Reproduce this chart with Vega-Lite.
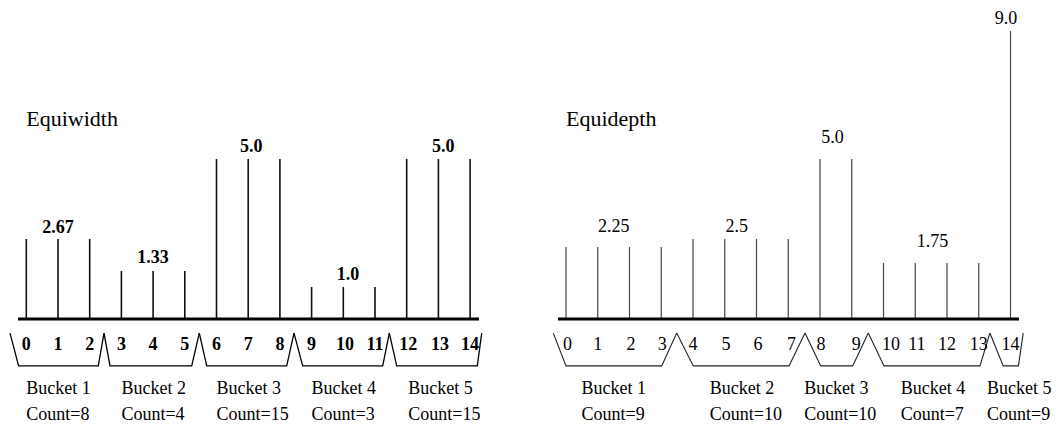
{
  "$schema": "https://vega.github.io/schema/vega-lite/v6.json",
  "padding": 0,
  "spacing": 20,
  "background": "white",
  "config": {
    "view": {"stroke": null},
    "axis": {"disable": true},
    "text": {"font": "'Liberation Serif', 'Times New Roman', Times, 'DejaVu Serif', serif", "fontSize": 18, "color": "#000"}
  },
  "datasets": {
    "bars": [
      {"panel": "L", "x": 0, "h": 2.5}, {"panel": "L", "x": 1, "h": 2.5}, {"panel": "L", "x": 2, "h": 2.5},
      {"panel": "L", "x": 3, "h": 1.5}, {"panel": "L", "x": 4, "h": 1.5}, {"panel": "L", "x": 5, "h": 1.5},
      {"panel": "L", "x": 6, "h": 5.0}, {"panel": "L", "x": 7, "h": 5.0}, {"panel": "L", "x": 8, "h": 5.0},
      {"panel": "L", "x": 9, "h": 1.0}, {"panel": "L", "x": 10, "h": 1.0}, {"panel": "L", "x": 11, "h": 1.0},
      {"panel": "L", "x": 12, "h": 5.0}, {"panel": "L", "x": 13, "h": 5.0}, {"panel": "L", "x": 14, "h": 5.0},
      {"panel": "R", "x": 0, "h": 2.25}, {"panel": "R", "x": 1, "h": 2.25}, {"panel": "R", "x": 2, "h": 2.25}, {"panel": "R", "x": 3, "h": 2.25},
      {"panel": "R", "x": 4, "h": 2.5}, {"panel": "R", "x": 5, "h": 2.5}, {"panel": "R", "x": 6, "h": 2.5}, {"panel": "R", "x": 7, "h": 2.5},
      {"panel": "R", "x": 8, "h": 5.0}, {"panel": "R", "x": 9, "h": 5.0},
      {"panel": "R", "x": 10, "h": 1.75}, {"panel": "R", "x": 11, "h": 1.75}, {"panel": "R", "x": 12, "h": 1.75}, {"panel": "R", "x": 13, "h": 1.75},
      {"panel": "R", "x": 14, "h": 9.0}
    ],
    "brackets": [
      {"panel": "L", "b": 1, "o": 1, "x": -0.514, "y": -0.44}, {"panel": "L", "b": 1, "o": 2, "x": -0.243, "y": -1.465}, {"panel": "L", "b": 1, "o": 3, "x": 2.271, "y": -1.465}, {"panel": "L", "b": 1, "o": 4, "x": 2.451, "y": -0.44},
      {"panel": "L", "b": 2, "o": 1, "x": 2.451, "y": -0.44}, {"panel": "L", "b": 2, "o": 2, "x": 2.64, "y": -1.465}, {"panel": "L", "b": 2, "o": 3, "x": 5.218, "y": -1.465}, {"panel": "L", "b": 2, "o": 4, "x": 5.457, "y": -0.44},
      {"panel": "L", "b": 3, "o": 1, "x": 5.457, "y": -0.44}, {"panel": "L", "b": 3, "o": 2, "x": 5.691, "y": -1.465}, {"panel": "L", "b": 3, "o": 3, "x": 8.215, "y": -1.465}, {"panel": "L", "b": 3, "o": 4, "x": 8.445, "y": -0.44},
      {"panel": "L", "b": 4, "o": 1, "x": 8.445, "y": -0.44}, {"panel": "L", "b": 4, "o": 2, "x": 8.719, "y": -1.465}, {"panel": "L", "b": 4, "o": 3, "x": 11.243, "y": -1.465}, {"panel": "L", "b": 4, "o": 4, "x": 11.451, "y": -0.44},
      {"panel": "L", "b": 5, "o": 1, "x": 11.451, "y": -0.44}, {"panel": "L", "b": 5, "o": 2, "x": 11.685, "y": -1.465}, {"panel": "L", "b": 5, "o": 3, "x": 14.227, "y": -1.465}, {"panel": "L", "b": 5, "o": 4, "x": 14.366, "y": -0.44},
      {"panel": "R", "b": 1, "o": 1, "x": -0.4, "y": -0.44}, {"panel": "R", "b": 1, "o": 2, "x": 0.0, "y": -1.465}, {"panel": "R", "b": 1, "o": 3, "x": 3.014, "y": -1.465}, {"panel": "R", "b": 1, "o": 4, "x": 3.487, "y": -0.44},
      {"panel": "R", "b": 2, "o": 1, "x": 3.487, "y": -0.44}, {"panel": "R", "b": 2, "o": 2, "x": 4.009, "y": -1.465}, {"panel": "R", "b": 2, "o": 3, "x": 7.024, "y": -1.465}, {"panel": "R", "b": 2, "o": 4, "x": 7.528, "y": -0.44},
      {"panel": "R", "b": 3, "o": 1, "x": 7.528, "y": -0.44}, {"panel": "R", "b": 3, "o": 2, "x": 8.022, "y": -1.465}, {"panel": "R", "b": 3, "o": 3, "x": 9.03, "y": -1.465}, {"panel": "R", "b": 3, "o": 4, "x": 9.521, "y": -0.44},
      {"panel": "R", "b": 4, "o": 1, "x": 9.521, "y": -0.44}, {"panel": "R", "b": 4, "o": 2, "x": 10.016, "y": -1.465}, {"panel": "R", "b": 4, "o": 3, "x": 13.039, "y": -1.465}, {"panel": "R", "b": 4, "o": 4, "x": 13.35, "y": -0.44},
      {"panel": "R", "b": 5, "o": 1, "x": 13.35, "y": -0.44}, {"panel": "R", "b": 5, "o": 2, "x": 13.77, "y": -1.465}, {"panel": "R", "b": 5, "o": 3, "x": 14.25, "y": -1.465}, {"panel": "R", "b": 5, "o": 4, "x": 14.4, "y": -0.44}
    ],
    "texts": [
      {"panel": "L", "kind": "title", "x": 0, "y": 6.03, "text": "Equiwidth"},
      {"panel": "L", "kind": "value", "x": 1, "y": 2.7, "text": "2.67"},
      {"panel": "L", "kind": "value", "x": 4, "y": 1.74, "text": "1.33"},
      {"panel": "L", "kind": "value", "x": 7.1, "y": 5.23, "text": "5.0"},
      {"panel": "L", "kind": "value", "x": 10.15, "y": 1.22, "text": "1.0"},
      {"panel": "L", "kind": "value", "x": 13.15, "y": 5.23, "text": "5.0"},
      {"panel": "L", "kind": "digit", "x": 0, "y": -0.97, "text": "0"},
      {"panel": "L", "kind": "digit", "x": 1, "y": -0.97, "text": "1"},
      {"panel": "L", "kind": "digit", "x": 2, "y": -0.97, "text": "2"},
      {"panel": "L", "kind": "digit", "x": 3, "y": -0.97, "text": "3"},
      {"panel": "L", "kind": "digit", "x": 4, "y": -0.97, "text": "4"},
      {"panel": "L", "kind": "digit", "x": 5, "y": -0.97, "text": "5"},
      {"panel": "L", "kind": "digit", "x": 6, "y": -0.97, "text": "6"},
      {"panel": "L", "kind": "digit", "x": 7, "y": -0.97, "text": "7"},
      {"panel": "L", "kind": "digit", "x": 8, "y": -0.97, "text": "8"},
      {"panel": "L", "kind": "digit", "x": 9, "y": -0.97, "text": "9"},
      {"panel": "L", "kind": "digit", "x": 10.05, "y": -0.97, "text": "10"},
      {"panel": "L", "kind": "digit", "x": 11, "y": -0.97, "text": "11"},
      {"panel": "L", "kind": "digit", "x": 12.05, "y": -0.97, "text": "12"},
      {"panel": "L", "kind": "digit", "x": 13.05, "y": -0.97, "text": "13"},
      {"panel": "L", "kind": "digit", "x": 14, "y": -0.97, "text": "14"},
      {"panel": "L", "kind": "bucket", "x": 0, "y": -2.33, "text": "Bucket 1"},
      {"panel": "L", "kind": "bucket", "x": 3, "y": -2.33, "text": "Bucket 2"},
      {"panel": "L", "kind": "bucket", "x": 6, "y": -2.33, "text": "Bucket 3"},
      {"panel": "L", "kind": "bucket", "x": 9, "y": -2.33, "text": "Bucket 4"},
      {"panel": "L", "kind": "bucket", "x": 12.05, "y": -2.33, "text": "Bucket 5"},
      {"panel": "L", "kind": "bucket", "x": 0, "y": -3.17, "text": "Count=8"},
      {"panel": "L", "kind": "bucket", "x": 3, "y": -3.17, "text": "Count=4"},
      {"panel": "L", "kind": "bucket", "x": 6, "y": -3.17, "text": "Count=15"},
      {"panel": "L", "kind": "bucket", "x": 9, "y": -3.17, "text": "Count=3"},
      {"panel": "L", "kind": "bucket", "x": 12.05, "y": -3.17, "text": "Count=15"},
      {"panel": "R", "kind": "title", "x": 0, "y": 6.03, "text": "Equidepth"},
      {"panel": "R", "kind": "value", "x": 1.5, "y": 2.73, "text": "2.25"},
      {"panel": "R", "kind": "value", "x": 5.38, "y": 2.73, "text": "2.5"},
      {"panel": "R", "kind": "value", "x": 8.39, "y": 5.49, "text": "5.0"},
      {"panel": "R", "kind": "value", "x": 11.54, "y": 2.26, "text": "1.75"},
      {"panel": "R", "kind": "value", "x": 13.86, "y": 9.22, "text": "9.0"},
      {"panel": "R", "kind": "digit", "x": 0.05, "y": -0.97, "text": "0"},
      {"panel": "R", "kind": "digit", "x": 1, "y": -0.97, "text": "1"},
      {"panel": "R", "kind": "digit", "x": 2.05, "y": -0.97, "text": "2"},
      {"panel": "R", "kind": "digit", "x": 3.03, "y": -0.97, "text": "3"},
      {"panel": "R", "kind": "digit", "x": 4, "y": -0.97, "text": "4"},
      {"panel": "R", "kind": "digit", "x": 5.04, "y": -0.97, "text": "5"},
      {"panel": "R", "kind": "digit", "x": 6.05, "y": -0.97, "text": "6"},
      {"panel": "R", "kind": "digit", "x": 7.1, "y": -0.97, "text": "7"},
      {"panel": "R", "kind": "digit", "x": 8.03, "y": -0.97, "text": "8"},
      {"panel": "R", "kind": "digit", "x": 9.14, "y": -0.97, "text": "9"},
      {"panel": "R", "kind": "digit", "x": 10.24, "y": -0.97, "text": "10"},
      {"panel": "R", "kind": "digit", "x": 11.05, "y": -0.97, "text": "11"},
      {"panel": "R", "kind": "digit", "x": 12, "y": -0.97, "text": "12"},
      {"panel": "R", "kind": "digit", "x": 13, "y": -0.97, "text": "13"},
      {"panel": "R", "kind": "digit", "x": 14, "y": -0.97, "text": "14"},
      {"panel": "R", "kind": "bucket", "x": 0.49, "y": -2.33, "text": "Bucket 1"},
      {"panel": "R", "kind": "bucket", "x": 4.53, "y": -2.33, "text": "Bucket 2"},
      {"panel": "R", "kind": "bucket", "x": 7.5, "y": -2.33, "text": "Bucket 3"},
      {"panel": "R", "kind": "bucket", "x": 10.54, "y": -2.33, "text": "Bucket 4"},
      {"panel": "R", "kind": "bucket", "x": 13.26, "y": -2.33, "text": "Bucket 5"},
      {"panel": "R", "kind": "bucket", "x": 0.49, "y": -3.17, "text": "Count=9"},
      {"panel": "R", "kind": "bucket", "x": 4.53, "y": -3.17, "text": "Count=10"},
      {"panel": "R", "kind": "bucket", "x": 7.5, "y": -3.17, "text": "Count=10"},
      {"panel": "R", "kind": "bucket", "x": 10.54, "y": -3.17, "text": "Count=7"},
      {"panel": "R", "kind": "bucket", "x": 13.26, "y": -3.17, "text": "Count=9"}
    ]
  },
  "hconcat": [
    {
      "width": 485,
      "height": 433,
      "layer": [
        {
          "data": {"name": "bars"},
          "transform": [{"filter": "datum.panel === 'L'"}],
          "mark": {"type": "rule", "color": "#111", "strokeWidth": 1.6},
          "encoding": {
            "x": {"field": "x", "type": "quantitative", "scale": {"domain": [-0.8297, 14.47], "nice": false, "zero": false}},
            "y": {"field": "h", "type": "quantitative", "scale": {"domain": [-3.5625, 9.96875], "nice": false, "zero": false}},
            "y2": {"datum": 0}
          }
        },
        {
          "data": {"values": [{}]},
          "mark": {"type": "rule", "color": "#000", "strokeWidth": 3},
          "encoding": {
            "x": {"datum": -0.262, "type": "quantitative"},
            "x2": {"datum": 14.28},
            "y": {"datum": 0, "type": "quantitative"}
          }
        },
        {
          "data": {"name": "brackets"},
          "transform": [{"filter": "datum.panel === 'L'"}],
          "mark": {"type": "line", "color": "#000", "strokeWidth": 1.3},
          "encoding": {
            "x": {"field": "x", "type": "quantitative"},
            "y": {"field": "y", "type": "quantitative"},
            "detail": {"field": "b"},
            "order": {"field": "o", "type": "quantitative"}
          }
        },
        {
          "data": {"name": "texts"},
          "transform": [{"filter": "datum.panel === 'L' && datum.kind === 'title'"}],
          "mark": {"type": "text", "align": "left", "baseline": "alphabetic", "fontSize": 22},
          "encoding": {
            "x": {"field": "x", "type": "quantitative"},
            "y": {"field": "y", "type": "quantitative"},
            "text": {"field": "text"}
          }
        },
        {
          "data": {"name": "texts"},
          "transform": [{"filter": "datum.panel === 'L' && (datum.kind === 'value' || datum.kind === 'digit')"}],
          "mark": {"type": "text", "align": "center", "baseline": "alphabetic", "fontSize": 18, "fontWeight": "bold"},
          "encoding": {
            "x": {"field": "x", "type": "quantitative"},
            "y": {"field": "y", "type": "quantitative"},
            "text": {"field": "text"}
          }
        },
        {
          "data": {"name": "texts"},
          "transform": [{"filter": "datum.panel === 'L' && datum.kind === 'bucket'"}],
          "mark": {"type": "text", "align": "left", "baseline": "alphabetic", "fontSize": 18},
          "encoding": {
            "x": {"field": "x", "type": "quantitative"},
            "y": {"field": "y", "type": "quantitative"},
            "text": {"field": "text"}
          }
        }
      ]
    },
    {
      "width": 551,
      "height": 433,
      "layer": [
        {
          "data": {"name": "bars"},
          "transform": [{"filter": "datum.panel === 'R'"}],
          "mark": {"type": "rule", "color": "#444", "strokeWidth": 1.2},
          "encoding": {
            "x": {"field": "x", "type": "quantitative", "scale": {"domain": [-1.9213, 15.433], "nice": false, "zero": false}},
            "y": {"field": "h", "type": "quantitative", "scale": {"domain": [-3.5625, 9.96875], "nice": false, "zero": false}},
            "y2": {"datum": 0}
          }
        },
        {
          "data": {"values": [{}]},
          "mark": {"type": "rule", "color": "#000", "strokeWidth": 3},
          "encoding": {
            "x": {"datum": -0.252, "type": "quantitative"},
            "x2": {"datum": 14.268},
            "y": {"datum": 0, "type": "quantitative"}
          }
        },
        {
          "data": {"name": "brackets"},
          "transform": [{"filter": "datum.panel === 'R'"}],
          "mark": {"type": "line", "color": "#222", "strokeWidth": 1.1},
          "encoding": {
            "x": {"field": "x", "type": "quantitative"},
            "y": {"field": "y", "type": "quantitative"},
            "detail": {"field": "b"},
            "order": {"field": "o", "type": "quantitative"}
          }
        },
        {
          "data": {"name": "texts"},
          "transform": [{"filter": "datum.panel === 'R' && datum.kind === 'title'"}],
          "mark": {"type": "text", "align": "left", "baseline": "alphabetic", "fontSize": 22},
          "encoding": {
            "x": {"field": "x", "type": "quantitative"},
            "y": {"field": "y", "type": "quantitative"},
            "text": {"field": "text"}
          }
        },
        {
          "data": {"name": "texts"},
          "transform": [{"filter": "datum.panel === 'R' && (datum.kind === 'value' || datum.kind === 'digit')"}],
          "mark": {"type": "text", "align": "center", "baseline": "alphabetic", "fontSize": 18},
          "encoding": {
            "x": {"field": "x", "type": "quantitative"},
            "y": {"field": "y", "type": "quantitative"},
            "text": {"field": "text"}
          }
        },
        {
          "data": {"name": "texts"},
          "transform": [{"filter": "datum.panel === 'R' && datum.kind === 'bucket'"}],
          "mark": {"type": "text", "align": "left", "baseline": "alphabetic", "fontSize": 18},
          "encoding": {
            "x": {"field": "x", "type": "quantitative"},
            "y": {"field": "y", "type": "quantitative"},
            "text": {"field": "text"}
          }
        }
      ]
    }
  ]
}
